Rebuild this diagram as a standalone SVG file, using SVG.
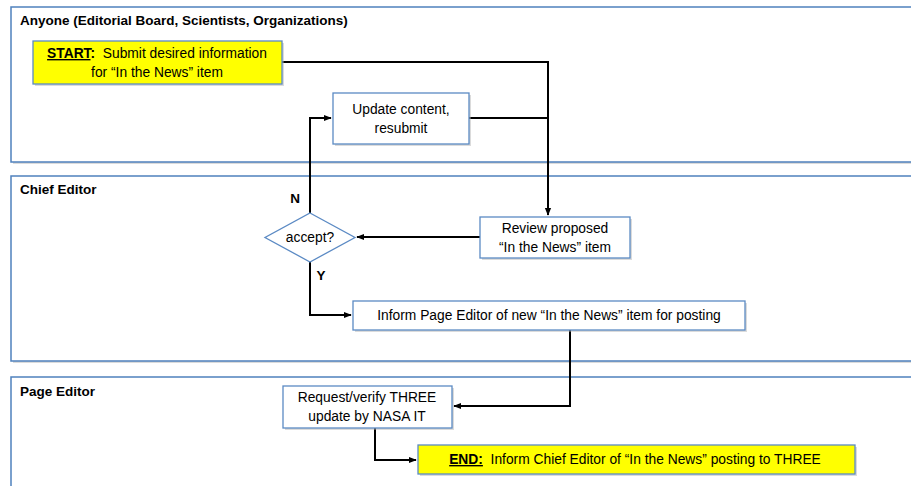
<svg xmlns="http://www.w3.org/2000/svg" width="911" height="486" viewBox="0 0 911 486">
<defs>
<style>
.lane{fill:#fff;stroke:#4f81bd;stroke-width:1.5}
.box{fill:#fff;stroke:#5b8ac4;stroke-width:1.3}
.y{fill:#ffff00}
.sh{fill:#b0b0b0;opacity:0.45}
.t{font-family:"Liberation Sans",Arial,sans-serif;font-size:13.8px;fill:#000;text-anchor:middle}
.lt{font-family:"Liberation Sans",Arial,sans-serif;font-size:13.5px;font-weight:bold;fill:#000}
.c{fill:none;stroke:#000;stroke-width:2}
</style>
<marker id="a" viewBox="0 0 10 10" refX="9" refY="5" markerWidth="4" markerHeight="4" orient="auto" markerUnits="strokeWidth"><path d="M0,1 L10,5 L0,9 z" fill="#000"/></marker>
</defs>
<rect width="911" height="486" fill="#fff"/>
<g id="lane-anyone">
<rect x="13" y="9" width="910" height="155" class="sh"/>
<rect x="11" y="7" width="910" height="155" class="lane"/>
<text x="20" y="25" class="lt">Anyone (Editorial Board, Scientists, Organizations)</text>
</g>
<g id="lane-chief">
<rect x="13" y="178" width="910" height="185" class="sh"/>
<rect x="11" y="176" width="910" height="185" class="lane"/>
<text x="20" y="194" class="lt">Chief Editor</text>
</g>
<g id="lane-page">
<rect x="13" y="379" width="910" height="120" class="sh"/>
<rect x="11" y="377" width="910" height="120" class="lane"/>
<text x="20" y="396" class="lt">Page Editor</text>
</g>
<g id="connectors">
<polyline class="c" points="282,62 548,62 548,215" marker-end="url(#a)"/>
<polyline class="c" points="469,118 548,118"/>
<polyline class="c" points="480,237 357,237" marker-end="url(#a)"/>
<polyline class="c" points="310,213 310,118 331,118" marker-end="url(#a)"/>
<polyline class="c" points="310,262 310,315 351,315" marker-end="url(#a)"/>
<polyline class="c" points="570,330 570,406 454,406" marker-end="url(#a)"/>
<polyline class="c" points="375,428 375,460 416,460" marker-end="url(#a)"/>
<text x="295" y="203" class="lt" text-anchor="middle">N</text>
<text x="321" y="280" class="lt" text-anchor="middle">Y</text>
</g>
<g id="start">
<rect x="35" y="43" width="249" height="43" class="sh"/>
<rect x="33" y="41" width="249" height="43" class="box y"/>
<text x="157" y="58" class="t" xml:space="preserve"><tspan font-weight="bold" text-decoration="underline">START</tspan><tspan font-weight="bold">:</tspan>  Submit desired information</text>
<text x="157" y="77" class="t">for “In the News” item</text>
</g>
<g id="update">
<rect x="335" y="95" width="136" height="51" class="sh"/>
<rect x="333" y="93" width="136" height="51" class="box"/>
<text x="401" y="114" class="t">Update content,</text>
<text x="401" y="133" class="t">resubmit</text>
</g>
<g id="review">
<rect x="482" y="219" width="150" height="41" class="sh"/>
<rect x="480" y="217" width="150" height="41" class="box"/>
<text x="555" y="233" class="t">Review proposed</text>
<text x="555" y="252" class="t">“In the News” item</text>
</g>
<g id="accept">
<polygon points="310,213 355,237.5 310,262 265,237.5" class="box"/>
<text x="310" y="242" class="t" font-size="12">accept?</text>
</g>
<g id="inform">
<rect x="355" y="303" width="392" height="29" class="sh"/>
<rect x="353" y="301" width="392" height="29" class="box"/>
<text x="549" y="320" class="t">Inform Page Editor of new “In the News” item for posting</text>
</g>
<g id="request">
<rect x="285" y="388" width="169" height="42" class="sh"/>
<rect x="283" y="386" width="169" height="42" class="box"/>
<text x="367" y="402" class="t">Request/verify THREE</text>
<text x="367" y="421" class="t">update by NASA IT</text>
</g>
<g id="end">
<rect x="420" y="447" width="437" height="29" class="sh"/>
<rect x="418" y="445" width="437" height="29" class="box y"/>
<text x="635" y="464" class="t" xml:space="preserve"><tspan font-weight="bold" text-decoration="underline">END:</tspan>  Inform Chief Editor of “In the News” posting to THREE</text>
</g>
</svg>
